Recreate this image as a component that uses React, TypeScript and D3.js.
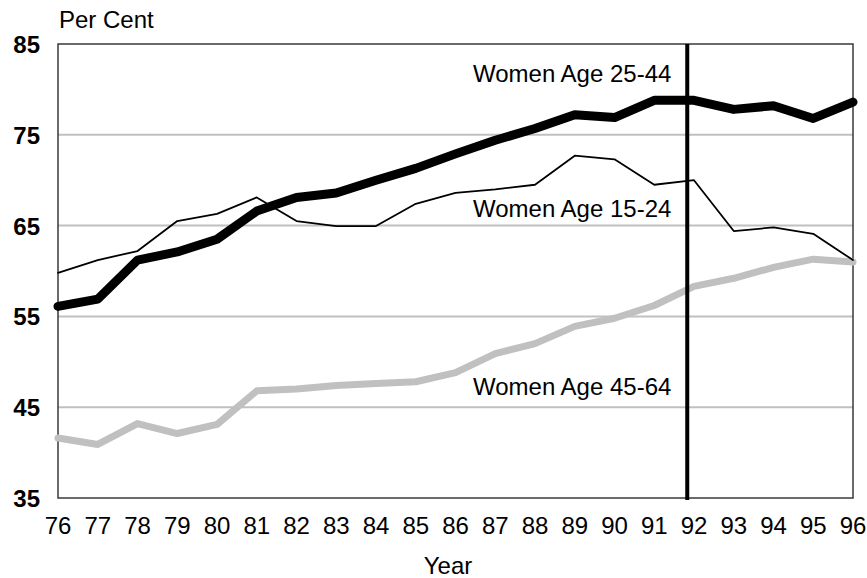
import * as d3 from 'd3';

const W = 867, H = 578;
const M = { top: 44, right: 14, bottom: 80, left: 58 };

const YEARS = [76, 77, 78, 79, 80, 81, 82, 83, 84, 85, 86, 87, 88, 89, 90, 91, 92, 93, 94, 95, 96];
const AGE_25_44 = [56.1, 56.9, 61.2, 62.1, 63.5, 66.6, 68.1, 68.6, 70.0, 71.3, 72.9, 74.4, 75.7, 77.2, 76.9, 78.8, 78.8, 77.8, 78.2, 76.8, 78.6];
const AGE_15_24 = [59.8, 61.2, 62.2, 65.5, 66.3, 68.1, 65.5, 64.95, 64.95, 67.4, 68.6, 69.0, 69.5, 72.7, 72.3, 69.5, 70.0, 64.4, 64.8, 64.1, 61.2];
const AGE_45_64 = [41.6, 40.9, 43.2, 42.1, 43.1, 46.8, 47.0, 47.4, 47.6, 47.8, 48.8, 50.9, 52.0, 53.9, 54.8, 56.2, 58.3, 59.2, 60.4, 61.3, 61.0];
const Y_TICKS = [35, 45, 55, 65, 75, 85];
const BREAK_YEAR = 91.83;

const SERIES = [
  { name: 'Women Age 45-64', values: AGE_45_64, color: '#c0c0c0', width: 7, labelAt: [86.44, 46.3] },
  { name: 'Women Age 15-24', values: AGE_15_24, color: '#000', width: 1.8, labelAt: [86.44, 65.95] },
  { name: 'Women Age 25-44', values: AGE_25_44, color: '#000', width: 9, labelAt: [86.44, 80.8] },
];

const FONT = 'Liberation Sans, Arial, Helvetica, sans-serif';

export default function App() {
  const x = d3.scaleLinear().domain([76, 96]).range([M.left, W - M.right]);
  const y = d3.scaleLinear().domain([35, 85]).range([H - M.bottom, M.top]);
  const line = d3.line<number>().x((_, i) => x(YEARS[i])).y(d => y(d));

  return (
    <svg width={W} height={H} style={{ position: 'absolute', left: 0, top: 0, background: '#fff' }} fontFamily={FONT}>
      {Y_TICKS.slice(1, -1).map(t => (
        <line key={t} x1={x(76)} x2={x(96)} y1={y(t)} y2={y(t)} stroke="#c0c0c0" strokeWidth={2} />
      ))}
      <rect x={x(76)} y={y(85)} width={x(96) - x(76)} height={y(35) - y(85)} fill="none" stroke="#3a3a3a" strokeWidth={1.5} />
      {SERIES.map(s => (
        <path key={s.name} d={line(s.values) || ''} fill="none" stroke={s.color} strokeWidth={s.width}
          strokeLinejoin="round" strokeLinecap="round" />
      ))}
      <line x1={x(BREAK_YEAR)} x2={x(BREAK_YEAR)} y1={y(85)} y2={y(35) + 2} stroke="#000" strokeWidth={4} />
      {SERIES.map(s => (
        <text key={s.name + 'l'} x={x(s.labelAt[0])} y={y(s.labelAt[1])} fontSize={24} fill="#000">{s.name}</text>
      ))}
      {Y_TICKS.map(t => (
        <text key={t} x={40} y={y(t) + 9} textAnchor="end" fontSize={24} fontWeight="bold" fill="#000">{t}</text>
      ))}
      {YEARS.map(yr => (
        <text key={yr} x={x(yr)} y={534} textAnchor="middle" fontSize={24} fill="#000">{yr}</text>
      ))}
      <text x={59} y={28} fontSize={24} fill="#000">Per Cent</text>
      <text x={448} y={574} textAnchor="middle" fontSize={24} fill="#000">Year</text>
    </svg>
  );
}
